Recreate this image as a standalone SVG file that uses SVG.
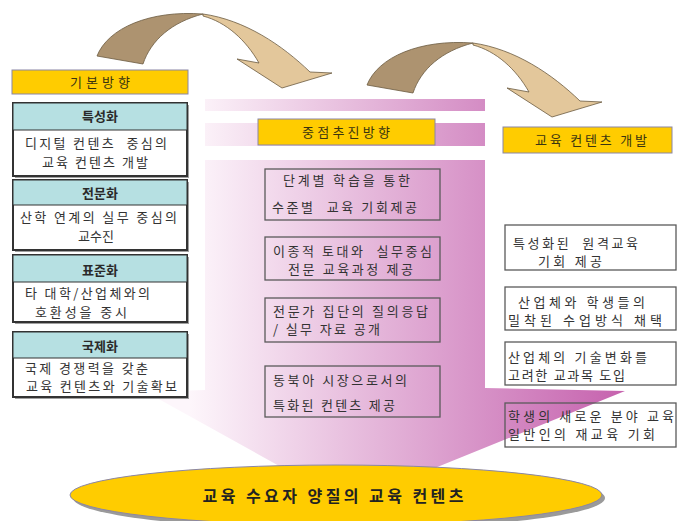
<svg xmlns="http://www.w3.org/2000/svg" width="677" height="521" viewBox="0 0 677 521">
<defs>
<linearGradient id="barG" x1="0" y1="0" x2="1" y2="0">
<stop offset="0" stop-color="#fbf1f8"/>
<stop offset="1" stop-color="#d48cc4"/>
</linearGradient>
<linearGradient id="bigG" gradientUnits="userSpaceOnUse" x1="190" y1="0" x2="625" y2="0">
<stop offset="0" stop-color="#fdf6fb"/>
<stop offset="0.68" stop-color="#d690c6"/>
<stop offset="1" stop-color="#c662ae"/>
</linearGradient>
<g id="curvedArrow">
<path class="arrDark" d="M97,56 C108,28 150,10 203,14 C172,22 151,40 143,64 Z"/>
<path class="arrLight" d="M203,14 C245,20 282,45 310,72 L332,73 L282,88 L237,59 L259,63 C246,40 226,22 203,16 Z"/>
</g>
</defs>
<style>
text{font-family:"Noto Sans CJK KR","Noto Sans",sans-serif;font-size:13px;fill:#333;white-space:pre}
.hd{font-weight:bold;text-anchor:middle;fill:#2a2a2a}
.ttl{text-anchor:middle;fill:#3a3410}
.big{font-size:16px;font-weight:bold;text-anchor:middle;fill:#222}
.arrDark{fill:#ad9370;stroke:#6b5a40;stroke-width:0.8}
.arrLight{fill:#e3c79b;stroke:#6b5a40;stroke-width:0.8}
.ybox{fill:#ffcc00;stroke:#8a86a6;stroke-width:1}
.card{fill:#fff;stroke:#333;stroke-width:2}
.shadow{fill:#a0a0a0}
.head{fill:#b6e0e2;stroke:#333;stroke-width:1}
.box{fill:none;stroke:#5a5a5a;stroke-width:1.3}
</style>

<g id="background-bands">
<rect x="205" y="99" width="280" height="12" fill="url(#barG)"/>
<rect x="205" y="123" width="280" height="23" fill="url(#barG)"/>
<path d="M205,160 L485,160 L485,388 L625,391 L425,472 L290,472 L146,392 L205,390 Z" fill="url(#bigG)"/>
</g>

<g id="connectors">
<use href="#curvedArrow"/>
<use href="#curvedArrow" transform="translate(270,29)"/>
</g>

<g id="title-left">
<rect class="ybox" x="12" y="70" width="176" height="24"/>
<text class="ttl" x="100" y="87" textLength="60">기본방향</text>
</g>

<g id="card-1">
<rect class="shadow" x="15" y="105" width="174" height="73"/>
<rect class="card" x="13" y="103" width="174" height="73"/>
<rect class="head" x="13" y="103" width="174" height="27"/>
<text class="hd" x="100" y="121">특성화</text>
<text x="25" y="148" textLength="142">디지털 컨텐츠  중심의</text>
<text x="42" y="167" textLength="106">교육 컨텐츠 개발</text>
</g>

<g id="card-2">
<rect class="shadow" x="15" y="182" width="174" height="70"/>
<rect class="card" x="13" y="180" width="174" height="70"/>
<rect class="head" x="13" y="180" width="174" height="25"/>
<text class="hd" x="100" y="198">전문화</text>
<text x="20" y="222" textLength="157">산학 연계의 실무 중심의</text>
<text x="96" y="241" text-anchor="middle">교수진</text>
</g>

<g id="card-3">
<rect class="shadow" x="15" y="257" width="174" height="67"/>
<rect class="card" x="13" y="255" width="174" height="67"/>
<rect class="head" x="13" y="255" width="174" height="27"/>
<text class="hd" x="100" y="275">표준화</text>
<text x="25" y="298" textLength="125">타 대학/산업체와의</text>
<text x="35" y="317" textLength="92">호환성을 중시</text>
</g>

<g id="card-4">
<rect class="shadow" x="15" y="334" width="174" height="65"/>
<rect class="card" x="13" y="332" width="174" height="65"/>
<rect class="head" x="13" y="332" width="174" height="26"/>
<text class="hd" x="100" y="351">국제화</text>
<text x="25" y="373" textLength="123">국제 경쟁력을 갖춘</text>
<text x="26" y="391" textLength="151">교육 컨텐츠와 기술확보</text>
</g>

<g id="title-middle">
<rect class="ybox" x="258" y="119" width="177" height="26"/>
<text class="ttl" x="346" y="137" textLength="88">중점추진방향</text>
</g>

<g id="mid-1">
<rect class="box" x="265" y="169" width="175" height="51"/>
<text x="283" y="185" textLength="127">단계별 학습을 통한</text>
<text x="272" y="212" textLength="145">수준별  교육 기회제공</text>
</g>
<g id="mid-2">
<rect class="box" x="265" y="237" width="175" height="43"/>
<text x="273" y="256" textLength="159">이종적 토대와  실무중심</text>
<text x="288" y="274" textLength="125">전문 교육과정 제공</text>
</g>
<g id="mid-3">
<rect class="box" x="265" y="298" width="175" height="44"/>
<text x="273" y="316" textLength="155">전문가 집단의 질의응답</text>
<text x="273" y="334" textLength="107">/ 실무 자료 공개</text>
</g>
<g id="mid-4">
<rect class="box" x="265" y="366" width="175" height="51"/>
<text x="273" y="385" textLength="134">동북아 시장으로서의</text>
<text x="273" y="410" textLength="122">특화된 컨텐츠 제공</text>
</g>

<g id="title-right">
<rect class="ybox" x="503" y="127" width="169" height="26"/>
<text class="ttl" x="591" y="145" textLength="112">교육 컨텐츠 개발</text>
</g>

<g id="right-1">
<rect class="box" x="505" y="225" width="171" height="45"/>
<text x="513" y="248" textLength="125">특성화된  원격교육</text>
<text x="538" y="266" textLength="64">기회 제공</text>
</g>
<g id="right-2">
<rect class="box" x="505" y="287" width="171" height="43"/>
<text x="518" y="307" textLength="127">산업체와 학생들의</text>
<text x="508" y="325" textLength="154">밀착된 수업방식 채택</text>
</g>
<g id="right-3">
<rect class="box" x="505" y="342" width="171" height="43"/>
<text x="508" y="362" textLength="139">산업체의 기술변화를</text>
<text x="508" y="380" textLength="117">고려한 교과목 도입</text>
</g>
<g id="right-4">
<rect class="box" x="505" y="403" width="171" height="44"/>
<text x="508" y="421" textLength="166">학생의 새로운 분야 교육</text>
<text x="508" y="439" textLength="147">일반인의 재교육 기회</text>
</g>

<g id="result">
<ellipse cx="339" cy="498" rx="266" ry="31" fill="#9a9a9a"/>
<ellipse cx="336" cy="495" rx="266" ry="30" fill="#ffcc00" stroke="#8a86a6" stroke-width="1"/>
<text class="big" x="333" y="502" textLength="261">교육 수요자 양질의 교육 컨텐츠</text>
</g>
</svg>
